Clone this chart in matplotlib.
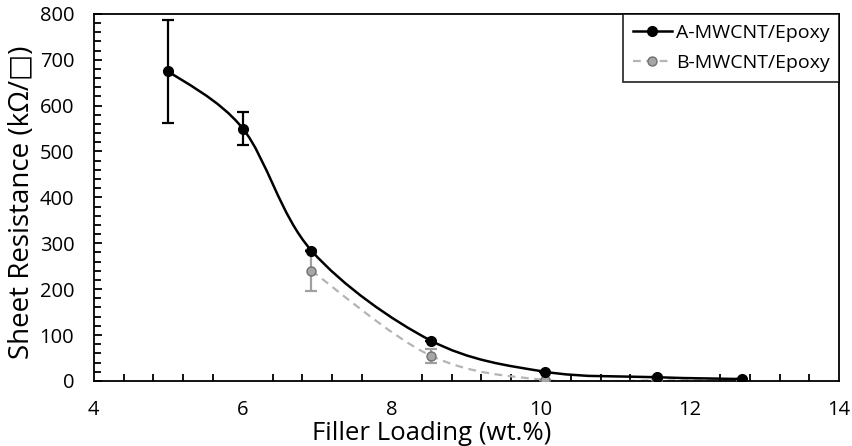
import numpy as np
import matplotlib
matplotlib.use("Agg")
import matplotlib.pyplot as plt
from matplotlib.path import Path
from matplotlib.patches import PathPatch
from matplotlib.lines import Line2D
from matplotlib.ticker import MultipleLocator

plt.rcParams['font.family'] = ['Open Sans', 'DejaVu Sans']

# Data
a_x = [5.0, 6.0, 6.92, 8.52, 10.05, 11.55, 12.7]
a_y = [675, 550, 284, 88, 20, 8, 4]
a_err = [112, 36, 0, 0, 0, 0, 0]
b_x = [6.92, 8.52, 10.05, 11.55, 12.7]
b_y = [240, 55, 2, 1, 1]
b_err = [45, 15, 0, 0, 0]
series_labels = ["A-MWCNT/Epoxy", "B-MWCNT/Epoxy"]
x_label = "Filler Loading (wt.%)"
y_label = "Sheet Resistance (kΩ/□)"


def smooth_path(xs, ys):
    pts = np.column_stack([xs, ys]).astype(float)
    n = len(pts)
    verts = [pts[0]]
    codes = [Path.MOVETO]
    for i in range(n - 1):
        p0 = pts[i - 1] if i > 0 else pts[i]
        p1 = pts[i]
        p2 = pts[i + 1]
        p3 = pts[i + 2] if i + 2 < n else pts[i + 1]
        c1 = p1 + (p2 - p0) / 6.0
        c2 = p2 - (p3 - p1) / 6.0
        verts += [c1, c2, p2]
        codes += [Path.CURVE4] * 3
    return Path(verts, codes)


fig = plt.figure(figsize=(8.52, 4.46), dpi=100)
ax = fig.add_axes([0.110, 0.146, 0.875, 0.823])

gray_line = '#B4B4B4'
gray_fill = '#A6A6A6'
gray_edge = '#707070'

# B series
ax.add_patch(PathPatch(smooth_path(b_x, b_y), facecolor='none', edgecolor=gray_line,
                       lw=1.6, ls=(0, (3.5, 2.5)), zorder=2))
ax.errorbar(b_x, b_y, yerr=b_err, fmt='none', ecolor='#A0A0A0', elinewidth=1.6,
            capsize=4, capthick=1.6, zorder=3)
ax.plot(b_x, b_y, ls='none', marker='o', ms=6.5, mfc=gray_fill, mec=gray_edge,
        mew=1.0, zorder=4)

# A series
ax.add_patch(PathPatch(smooth_path(a_x, a_y), facecolor='none', edgecolor='black',
                       lw=1.8, zorder=5))
ax.errorbar(a_x, a_y, yerr=a_err, fmt='none', ecolor='black', elinewidth=1.6,
            capsize=4, capthick=1.6, zorder=6)
ax.plot(a_x, a_y, ls='none', marker='o', ms=7, mfc='black', mec='black', zorder=7)

ax.set_xlim(4, 14)
ax.set_ylim(0, 800)
ax.xaxis.set_major_locator(MultipleLocator(2))
ax.xaxis.set_minor_locator(MultipleLocator(0.4))
ax.yaxis.set_major_locator(MultipleLocator(100))
ax.yaxis.set_minor_locator(MultipleLocator(20))
ax.tick_params(axis='both', which='both', direction='in', top=False, right=False,
               width=1.3, color='black')
ax.tick_params(axis='both', which='major', length=6, labelsize=14.5)
ax.tick_params(axis='both', which='minor', length=5)
ax.tick_params(axis='y', which='major', pad=14)
ax.tick_params(axis='x', which='major', length=0, pad=14)
for s in ax.spines.values():
    s.set_linewidth(1.3)
    s.set_color('black')

ax.set_xlabel(x_label, fontsize=18.5, va='bottom')
ax.xaxis.set_label_coords(0.454, -0.177)
ax.set_ylabel(y_label, fontsize=20, va='center')
ax.yaxis.set_label_coords(-0.096, 0.488)

handles = [
    Line2D([], [], color='black', lw=1.8, marker='o', ms=7),
    Line2D([], [], color=gray_line, lw=1.6, ls=(0, (3.5, 2.5)), marker='o', ms=6.5,
           mfc=gray_fill, mec=gray_edge, mew=1.0),
]
leg = ax.legend(handles, series_labels, loc='upper right', fontsize=14,
                frameon=True, fancybox=False, edgecolor='black', borderaxespad=0,
                handlelength=2.0, handletextpad=0.2, borderpad=0.5, labelspacing=0.65)
leg.get_frame().set_linewidth(1.3)

fig.savefig('out.png', dpi=100)
